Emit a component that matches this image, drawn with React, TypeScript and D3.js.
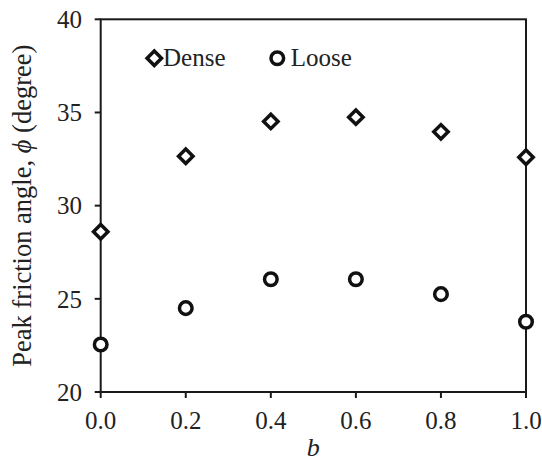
import React from "react";
import * as d3 from "d3";

const bValues = [0.0, 0.2, 0.4, 0.6, 0.8, 1.0];
const denseAngles = [28.6, 32.65, 34.52, 34.75, 33.96, 32.6];
const looseAngles = [22.55, 24.5, 26.05, 26.05, 25.25, 23.77];
const xTicks = [0, 0.2, 0.4, 0.6, 0.8, 1.0];
const yTicks = [20, 25, 30, 35, 40];

const W = 542;
const H = 463;
const left = 100.7;
const right = 526;
const top = 19.3;
const bottom = 392;

const textStyle: React.CSSProperties = {
  fontFamily: '"Liberation Serif", "DejaVu Serif", serif',
  fontSize: "25px",
};
const INK = "#1a1a1a";

export default function App() {
  const x = d3.scaleLinear().domain([0, 1]).range([left, right]);
  const y = d3.scaleLinear().domain([20, 40]).range([bottom, top]);
  const diamond = d3.symbol().type(d3.symbolSquare).size(104)() as string;
  const circleR = 6.3;
  const markerStroke = 3.5;

  return (
    <svg
      width={W}
      height={H}
      style={{ position: "absolute", left: 0, top: 0, display: "block", background: "#fff" }}
    >
      {/* frame */}
      <rect
        x={left}
        y={top}
        width={right - left}
        height={bottom - top}
        fill="none"
        stroke={INK}
        strokeWidth={2}
      />
      {/* x ticks */}
      {xTicks.map((t) => (
        <g key={"x" + t}>
          <line x1={x(t)} x2={x(t)} y1={bottom} y2={bottom + 6} stroke={INK} strokeWidth={2} />
          <text x={x(t)} y={429} textAnchor="middle" style={textStyle} fill="#222">
            {d3.format(".1f")(t)}
          </text>
        </g>
      ))}
      {/* y ticks */}
      {yTicks.map((t) => (
        <g key={"y" + t}>
          <line x1={left - 6} x2={left} y1={y(t)} y2={y(t)} stroke={INK} strokeWidth={2} />
          <text x={82} y={y(t)} dy="0.35em" textAnchor="end" style={textStyle} fill="#222">
            {t}
          </text>
        </g>
      ))}
      {/* axis titles */}
      <text
        x={(left + right) / 2}
        y={456}
        textAnchor="middle"
        style={{ ...textStyle, fontStyle: "italic", fontSize: "26px" }}
        fill="#222"
      >
        b
      </text>
      <text
        transform={`translate(31, ${(top + bottom) / 2}) rotate(-90)`}
        textAnchor="middle"
        style={{ ...textStyle, fontSize: "26.5px" }}
        fill="#222"
      >
        Peak friction angle, <tspan style={{ fontStyle: "italic" }}>ϕ</tspan> (degree)
      </text>
      {/* dense series */}
      {bValues.map((b, i) => (
        <path
          key={"d" + i}
          d={diamond}
          transform={`translate(${x(b)}, ${y(denseAngles[i])}) rotate(45)`}
          fill="#fff"
          stroke="#111"
          strokeWidth={markerStroke}
        />
      ))}
      {/* loose series */}
      {bValues.map((b, i) => (
        <circle
          key={"l" + i}
          cx={x(b)}
          cy={y(looseAngles[i])}
          r={circleR}
          fill="#fff"
          stroke="#111"
          strokeWidth={markerStroke}
        />
      ))}
      {/* legend */}
      <path
        d={diamond}
        transform="translate(154.3, 58.3) rotate(45)"
        fill="#fff"
        stroke="#111"
        strokeWidth={markerStroke}
      />
      <text x={163} y={65.7} style={textStyle} fill="#222">
        Dense
      </text>
      <circle cx={277.3} cy={58.3} r={circleR} fill="#fff" stroke="#111" strokeWidth={markerStroke} />
      <text x={290.7} y={65.7} style={textStyle} fill="#222">
        Loose
      </text>
    </svg>
  );
}
